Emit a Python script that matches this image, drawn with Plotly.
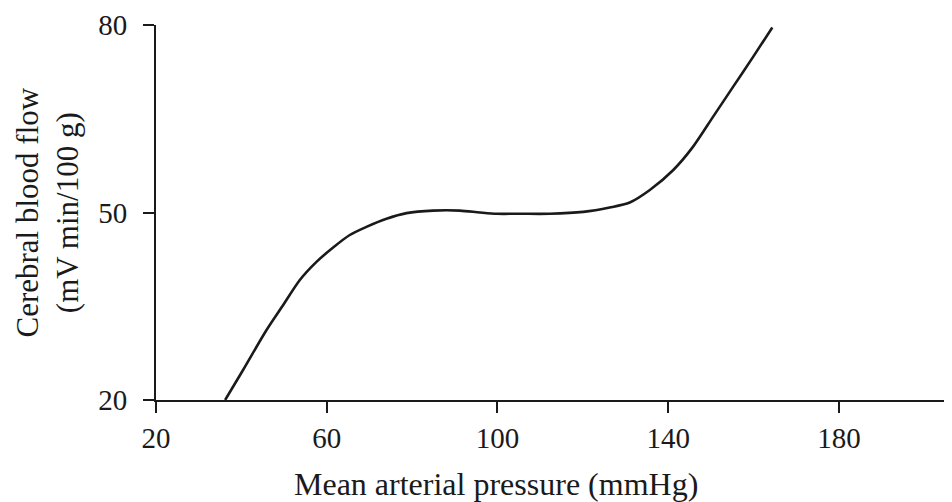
import plotly.graph_objects as go

# Data
pressure = [36.2, 40.4, 45.9, 49.8, 53.7, 57.6, 61.5, 65.4, 69.3, 74.0, 78.7, 84.9,
            91.2, 95.9, 99.8, 105.2, 112.3, 120.1, 126.3, 131.0, 135.7, 141.2,
            145.8, 150.5, 155.2, 159.9, 164.4]
flow = [20.0, 24.8, 31.2, 35.2, 39.2, 42.1, 44.4, 46.4, 47.7, 49.0, 49.9, 50.3,
        50.3, 50.0, 49.8, 49.8, 49.8, 50.1, 50.8, 51.6, 53.6, 56.8,
        60.5, 65.3, 70.1, 74.9, 79.6]

x_ticks = [20, 60, 100, 140, 180]
y_ticks = [20, 50, 80]

FONT = "Liberation Serif"
INK = "#1a1a1a"
TICK_SIZE = 29
TITLE_SIZE = 32
YTITLE_SIZE = 31

# figure geometry (page has an 8px body offset)
W, H = 944, 494
L, T, R, B = 148, 17, 0, 102
PW, PH = W - L - R, H - T - B

fig = go.Figure()
fig.add_trace(go.Scatter(
    x=pressure, y=flow, mode="lines",
    line=dict(color=INK, width=2.6, shape="spline", smoothing=0.8),
    showlegend=False, hoverinfo="skip", cliponaxis=False,
))

axis_common = dict(
    showgrid=False, zeroline=False,
    showline=True, linecolor=INK, linewidth=2,
    ticks="outside", ticklen=11, tickwidth=2, tickcolor=INK,
    tickfont=dict(family=FONT, size=TICK_SIZE, color=INK),
)

fig.update_layout(
    width=W, height=H,
    margin=dict(l=L, r=R, t=T, b=B, pad=0),
    paper_bgcolor="white", plot_bgcolor="white",
    font=dict(family=FONT, size=TICK_SIZE, color=INK),
    xaxis=dict(range=[20, 206.5], tickvals=x_ticks,
               ticktext=[str(v) for v in x_ticks], **axis_common),
    yaxis=dict(range=[20, 80], tickvals=y_ticks,
               ticktext=[str(v) for v in y_ticks], ticklabelstandoff=10,
               **axis_common),
    annotations=[
        dict(text="Mean arterial pressure (mmHg)", xref="paper", yref="paper",
             x=(488 - L) / PW, y=(T + PH - 476) / PH,
             xanchor="center", yanchor="middle", showarrow=False,
             font=dict(family=FONT, size=TITLE_SIZE, color=INK)),
        dict(text="Cerebral blood flow<br>(mV min/100 g)", xref="paper", yref="paper",
             x=(39 - L) / PW, y=0.5, textangle=-90,
             xanchor="center", yanchor="middle", showarrow=False,
             font=dict(family=FONT, size=YTITLE_SIZE, color=INK)),
    ],
)

fig.write_html("out.html")
